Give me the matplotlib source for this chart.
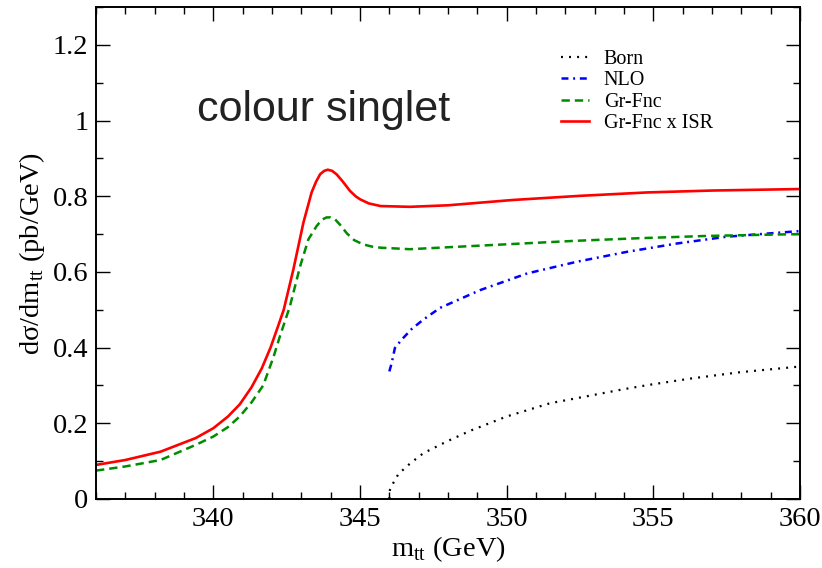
import matplotlib
matplotlib.use("Agg")
import matplotlib.pyplot as plt
from matplotlib.ticker import MultipleLocator

plt.rcParams['lines.scale_dashes'] = False
plt.rcParams['mathtext.fontset'] = 'custom'
plt.rcParams['mathtext.rm'] = 'Liberation Serif'

# Gr-Fnc x ISR (red, solid)
isr_x = [336.0, 337.0, 338.2, 339.4, 340.0, 340.5, 340.9, 341.3, 341.65, 341.95, 342.2,
         342.4, 342.73, 343.07, 343.35, 343.5, 343.64, 343.78, 343.9, 344.05, 344.2,
         344.4, 344.66, 344.85, 345.0, 345.3, 345.7, 346.7, 348.0, 350.2, 352.5,
         354.8, 357.0, 360.0]
isr_y = [0.090, 0.103, 0.125, 0.161, 0.187, 0.218, 0.250, 0.295, 0.345, 0.400, 0.455,
         0.500, 0.607, 0.730, 0.810, 0.838, 0.858, 0.867, 0.870, 0.867, 0.858,
         0.840, 0.814, 0.800, 0.792, 0.781, 0.774, 0.772, 0.776, 0.790, 0.801,
         0.810, 0.815, 0.819]

# Gr-Fnc (green, dashed)
grf_x = [336.0, 337.0, 338.2, 339.4, 340.0, 340.5, 340.9, 341.3, 341.7, 342.05, 342.27,
         342.61, 342.96, 343.24, 343.52, 343.7, 343.86, 344.0, 344.15, 344.35, 344.55,
         344.8, 345.1, 345.4, 345.7, 346.7, 347.7, 350.0, 352.3, 354.5, 356.8, 360.0]
grf_y = [0.075, 0.086, 0.103, 0.143, 0.165, 0.190, 0.218, 0.255, 0.300, 0.375, 0.430,
         0.509, 0.615, 0.686, 0.721, 0.738, 0.744, 0.744, 0.739, 0.722, 0.702,
         0.684, 0.673, 0.667, 0.664, 0.660, 0.664, 0.673, 0.682, 0.689, 0.695, 0.700]

# NLO (blue, dash-dot)
nlo_x = [346.0, 346.08, 346.19, 346.42, 346.76, 347.16, 347.73, 349.1, 350.7, 352.4,
         354.1, 355.8, 357.5, 360.0]
nlo_y = [0.337, 0.359, 0.399, 0.421, 0.449, 0.474, 0.505, 0.552, 0.596, 0.627,
         0.653, 0.675, 0.693, 0.708]

# Born (black, dotted)
born_x = [346.0, 346.02, 346.14, 346.31, 346.71, 347.16, 347.96, 348.75, 350.0, 351.48,
          352.84, 353.98, 354.89, 356.25, 357.96, 360.0]
born_y = [0.0, 0.024, 0.043, 0.066, 0.094, 0.121, 0.152, 0.180, 0.218, 0.253,
          0.273, 0.290, 0.302, 0.318, 0.335, 0.350]

fig = plt.figure(figsize=(8.22, 5.68), dpi=100)
ax = fig.add_axes([0.1168, 0.1215, 0.8564, 0.8662])

ax.plot(born_x, born_y, color='black', lw=1.6, dashes=(1.4, 4.4), label='Born')
ax.plot(nlo_x, nlo_y, color='blue', lw=1.8, dashes=(5, 3.4, 1.4, 3.4), label='NLO')
ax.plot(grf_x, grf_y, color='#008c00', lw=1.8, dashes=(6, 3.6), label='Gr-Fnc')
ax.plot(isr_x, isr_y, color='red', lw=1.9, label='Gr-Fnc x ISR')

ax.set_xlim(336, 360)
ax.set_ylim(0, 1.3)
ax.xaxis.set_major_locator(MultipleLocator(5))
ax.xaxis.set_minor_locator(MultipleLocator(1))
ax.yaxis.set_minor_locator(MultipleLocator(0.1))
ax.set_yticks([0, 0.2, 0.4, 0.6, 0.8, 1.0, 1.2])
ax.set_yticklabels(['0', '0.2', '0.4', '0.6', '0.8', '1', '1.2'])

ax.tick_params(which='both', direction='in', top=True, right=True, pad=5.5,
               labelsize=20.5, width=1)
ax.tick_params(which='major', length=10)
ax.tick_params(which='minor', length=5)
for lab in ax.get_xticklabels() + ax.get_yticklabels():
    lab.set_fontfamily('Liberation Serif')
for sp in ax.spines.values():
    sp.set_linewidth(1.4)

ax.set_xlabel(r'm$_{\mathregular{tt}}$ (GeV)', family='Liberation Serif', fontsize=20.5,
              labelpad=2)
ax.set_ylabel(r'd$\mathregular{\sigma}$/dm$_{\mathregular{tt}}$ (pb/GeV)',
              family='Liberation Serif', fontsize=20.5, labelpad=4)

ax.text(339.45, 1.0, 'colour singlet', family='Liberation Sans', fontsize=31,
        color='#222222', ha='left', va='baseline')

ax.legend(loc='upper left', bbox_to_anchor=(0.66, 0.912), frameon=False,
          prop={'family': 'Liberation Serif', 'size': 14.5}, handlelength=1.4,
          handletextpad=0.75, labelspacing=0.1, borderpad=0, borderaxespad=0)

fig.savefig('out.png', dpi=100)
